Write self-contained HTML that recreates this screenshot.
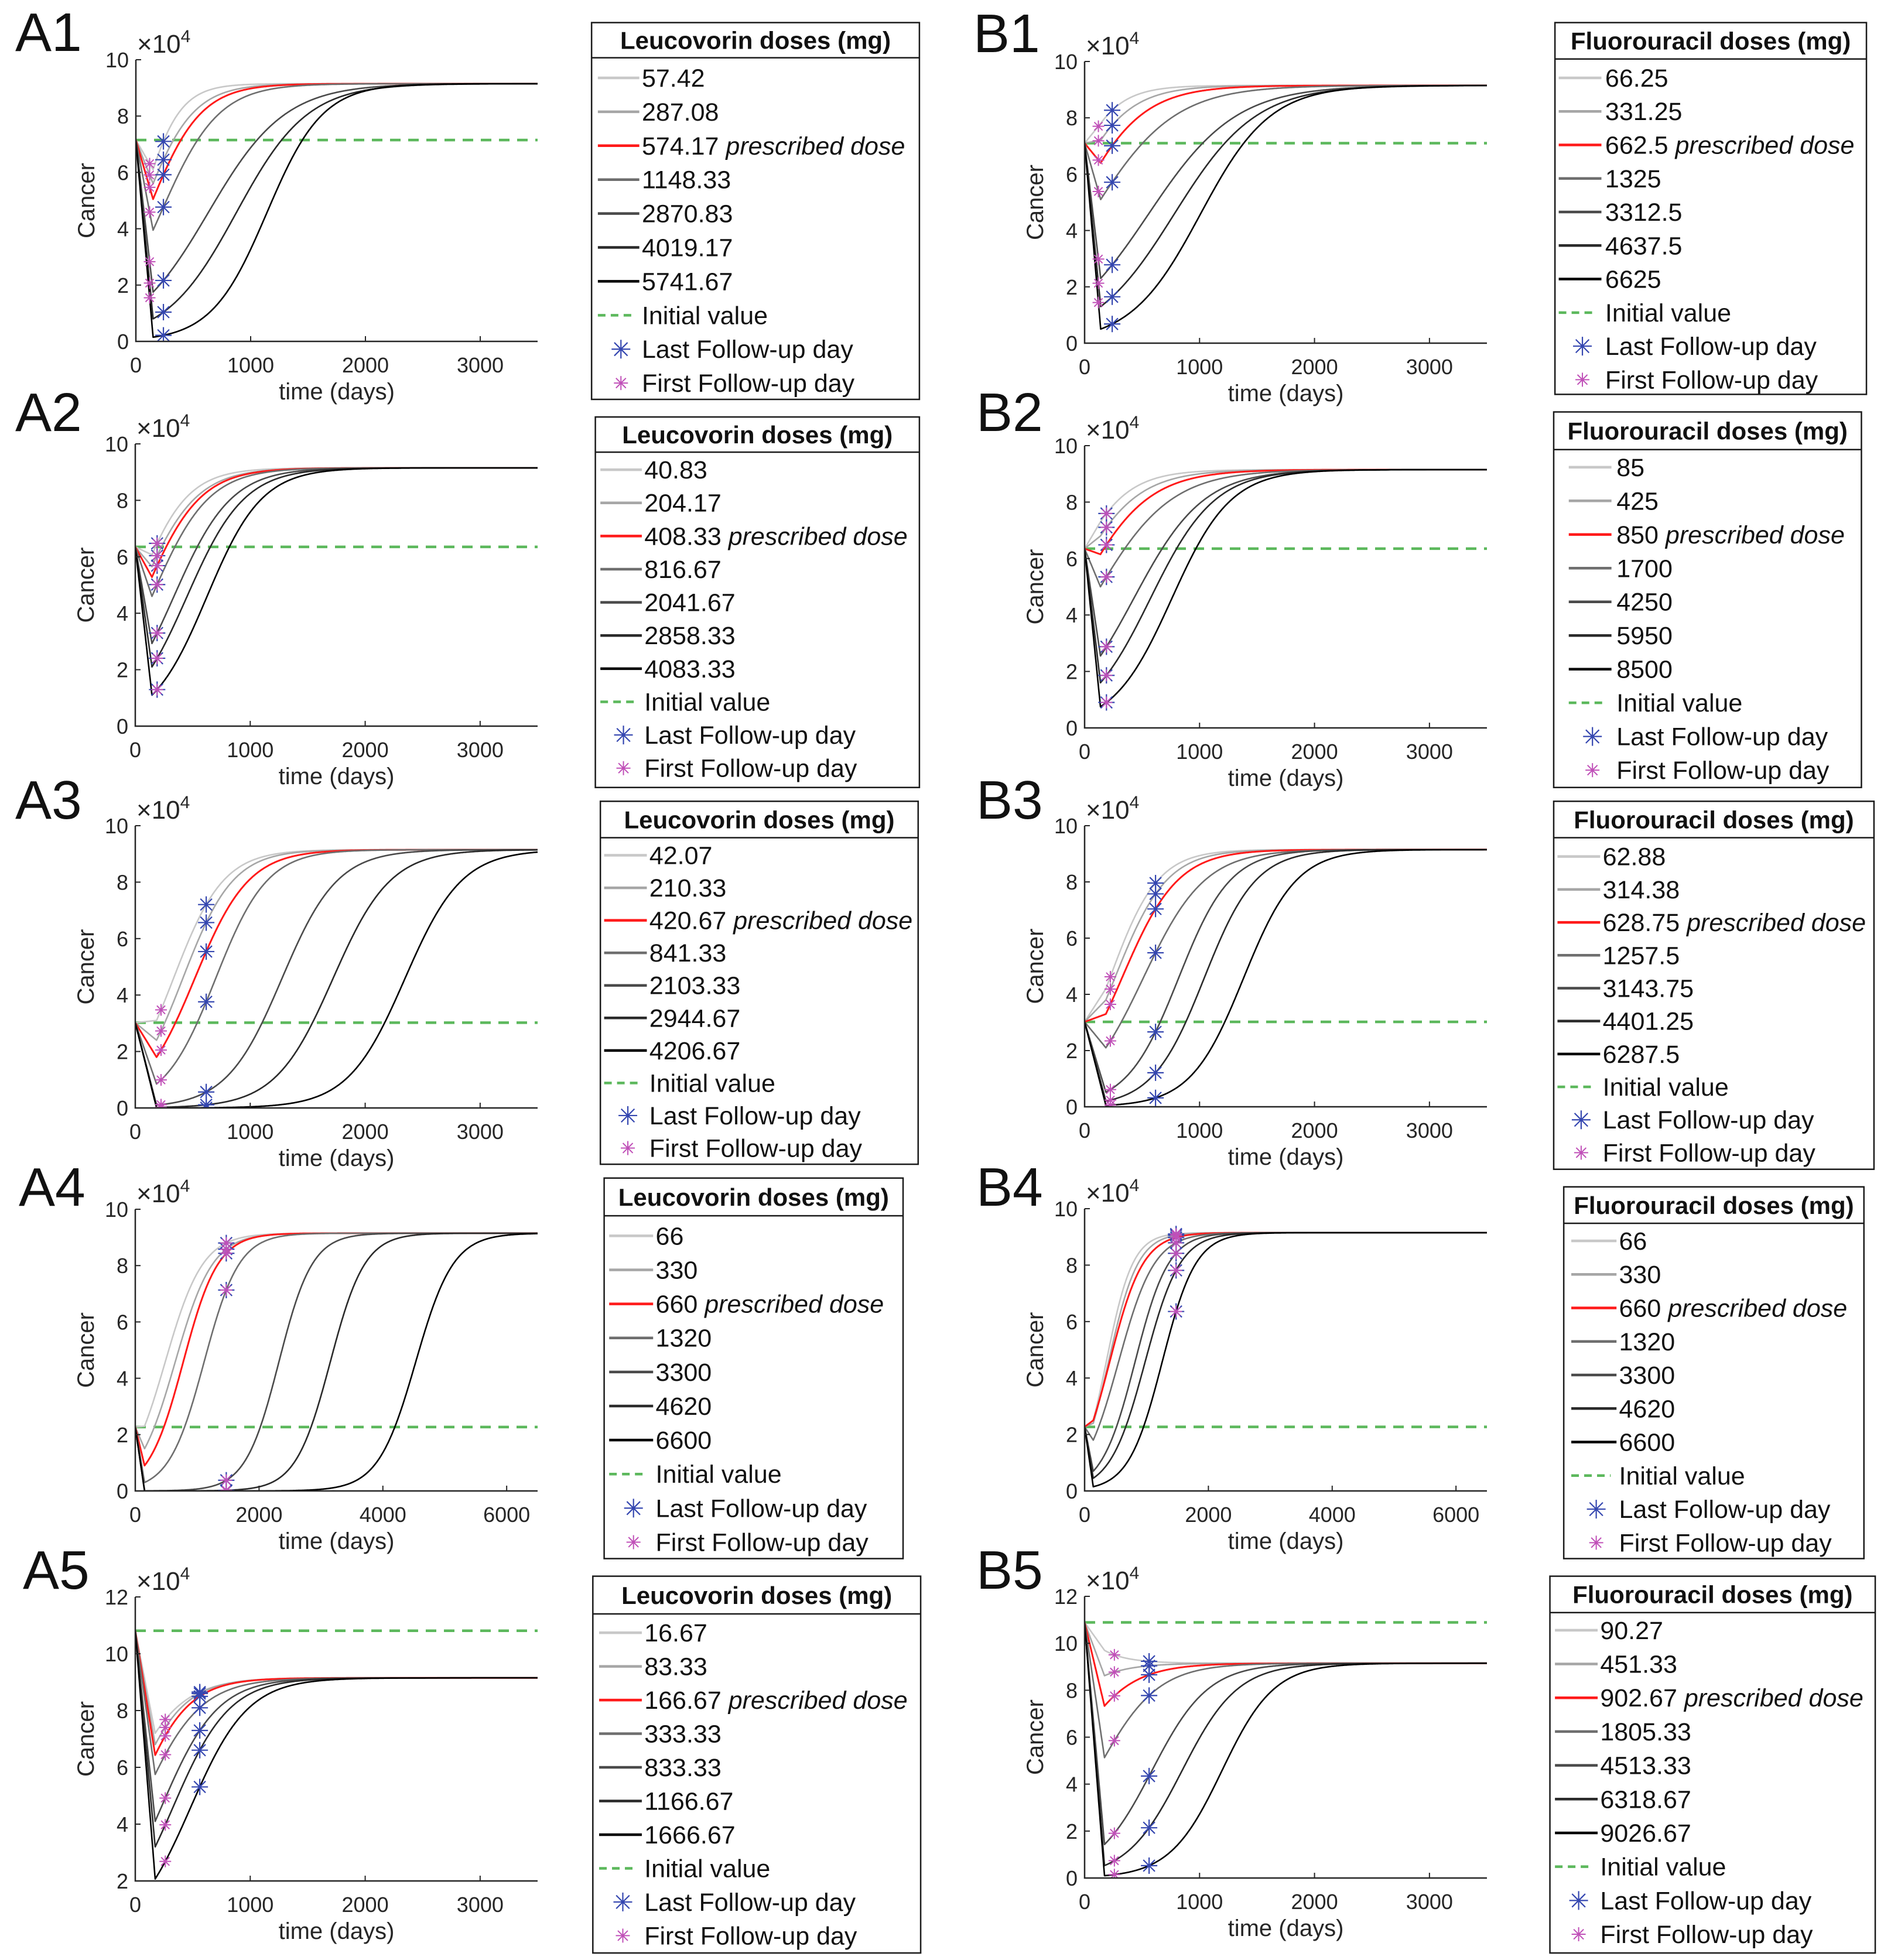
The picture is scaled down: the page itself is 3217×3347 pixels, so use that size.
<!DOCTYPE html>
<html><head><meta charset="utf-8"><title>Leucovorin / Fluorouracil dose simulations</title>
<style>
html,body{margin:0;padding:0;background:#fff;}
svg{display:block;font-family:"Liberation Sans",Arial,sans-serif;}
</style></head>
<body>
<svg id="fig" xmlns="http://www.w3.org/2000/svg" width="3217" height="3347" viewBox="0 0 3217 3347"></svg>
<script>
// ---------- DATA (values x10^4 cancer cells, days) ----------
const A1_doses = ["57.42","287.08","574.17","1148.33","2870.83","4019.17","5741.67"];
const A1_minima = [6.1,5.6,5.05,3.95,1.75,0.8,0.15];
const A1_halfDays = [300,360,385,450,760,930,1150];
const B1_doses = ["66.25","331.25","662.5","1325","3312.5","4637.5","6625"];
const B1_minima = [7.8,7.2,6.4,5.1,2.3,1.3,0.5];
const B1_halfDays = [300,350,400,510,750,880,1040];
const A2_doses = ["40.83","204.17","408.33","816.67","2041.67","2858.33","4083.33"];
const A2_minima = [6.07,5.65,5.28,4.6,2.93,2.1,1.1];
const A2_halfDays = [346,380,390,415,500,565,680];
const B2_doses = ["85","425","850","1700","4250","5950","8500"];
const B2_minima = [7.3,6.8,6.15,5.0,2.55,1.6,0.75];
const B2_halfDays = [335,380,415,485,600,670,800];
const A3_doses = ["42.07","210.33","420.67","841.33","2103.33","2944.67","4206.67"];
const A3_minima = [3.1,2.4,1.8,0.85,0.1,0.02,0.0015];
const A3_halfDays = [485,530,610,740,1280,1720,2345];
const B3_doses = ["62.88","314.38","628.75","1257.5","3143.75","4401.25","6287.5"];
const B3_minima = [4.2,3.8,3.3,2.1,0.52,0.2,0.05];
const B3_halfDays = [427,462,508,635,843,1050,1385];
const A4_doses = ["66","330","660","1320","3300","4620","6600"];
const A4_minima = [2.3,1.5,0.9,0.3,0.003,0.0002,0.000005];
const A4_halfDays = [640,745,830,1130,2320,3150,4530];
const B4_doses = ["66","330","660","1320","3300","4620","6600"];
const B4_minima = [2.5,2.4,2.5,1.8,0.7,0.45,0.15];
const B4_halfDays = [470,515,557,665,857,1006,1263];
const A5_doses = ["16.67","83.33","166.67","333.33","833.33","1166.67","1666.67"];
const A5_minima = [7.2,6.8,6.43,5.75,4.1,3.2,2.07];
const A5_halfDays = [379,369,374,417,461,506,595];
const B5_doses = ["90.27","451.33","902.67","1805.33","4513.33","6318.67","9026.67"];
const B5_minima = [9.7,8.62,7.33,5.13,1.43,0.53,0.1];
const B5_halfDays = [312,346,386,440,663,876,1200];

const panelIds      = ["A1","B1","A2","B2","A3","B3","A4","B4","A5","B5"];
const panelInitial  = [7.15,7.1,6.35,6.35,3.02,3.02,2.27,2.27,10.81,10.89];
const panelMinDay   = [150,140,145,138,185,185,150,140,173,173];
const panelFirstDay = [120,120,190,190,224,224,1470,1478,261,259];
const panelLastDay  = [240,240,190,190,617,617,1470,1478,561,561];
const carryingCap = 9.15;
const xTicksShort = [0,1000,2000,3000];
const xTicksLong = [0,2000,4000,6000];
const yTicks10 = [0,2,4,6,8,10];
const yTicksA5 = [2,4,6,8,10,12];
const yTicksB5 = [0,2,4,6,8,10,12];

// ---------- LAYOUT ----------
const S = 2.1447;
const NS = "http://www.w3.org/2000/svg";
const svg = document.getElementById("fig");
const seriesColors = ["#c8c8c8","#a6a6a6","#ff1a1a","#6e6e6e","#4a4a4a","#2a2a2a","#000000"];
const dosesById = {A1:A1_doses,B1:B1_doses,A2:A2_doses,B2:B2_doses,A3:A3_doses,B3:B3_doses,A4:A4_doses,B4:B4_doses,A5:A5_doses,B5:B5_doses};
const minById = {A1:A1_minima,B1:B1_minima,A2:A2_minima,B2:B2_minima,A3:A3_minima,B3:B3_minima,A4:A4_minima,B4:B4_minima,A5:A5_minima,B5:B5_minima};
const halfById = {A1:A1_halfDays,B1:B1_halfDays,A2:A2_halfDays,B2:B2_halfDays,A3:A3_halfDays,B3:B3_halfDays,A4:A4_halfDays,B4:B4_halfDays,A5:A5_halfDays,B5:B5_halfDays};

const axesBox = {
 A1:[232,918,102,583], B1:[1852,2539,105,586],
 A2:[231,918,758,1240], B2:[1852,2539,761,1243],
 A3:[231,918,1410,1892], B3:[1852,2539,1410,1890],
 A4:[231,918,2065,2546], B4:[1852,2539,2064,2546],
 A5:[231,918,2727,3212], B5:[1852,2539,2726,3207]
};
const legendBox = {
 A1:[471,732,18,318,46,62,27.0,476,509,511],
 B1:[1238,1486,18,314,47,62,26.7,1241,1275,1278],
 A2:[474,732,332,627,360,374,26.4,478,511,513],
 B2:[1237,1482,328,627,358,372,26.8,1249,1283,1287],
 A3:[478,731,638,927,667,681,25.9,481,515,517],
 B3:[1237,1492,638,931,667,682,26.2,1240,1274,1276],
 A4:[481,719,938,1241,968,984,27.1,485,520,522],
 B4:[1245,1484,945,1241,974,988,26.7,1251,1287,1289],
 A5:[472,733,1255,1555,1285,1300,26.8,477,511,513],
 B5:[1234,1493,1255,1555,1284,1298,26.9,1238,1272,1274]
};
const labelPos = {A1:[26,87],B1:[1662,89],A2:[26,736],B2:[1667,736],A3:[26,1398],B3:[1667,1398],A4:[32,2059],B4:[1667,2059],A5:[39,2713],B5:[1667,2713]};

function el(tag, attrs, parent){
  const e = document.createElementNS(NS, tag);
  for (const k in attrs) e.setAttribute(k, attrs[k]);
  (parent||svg).appendChild(e);
  return e;
}
function curveValue(t, y0, ymin, half, tm){
  const K = carryingCap;
  if (t <= tm) return y0 + (ymin - y0) * t / tm;
  const c = (K - ymin) / ymin;
  const L = (ymin + K) / 2;
  const r = Math.log(c / ((K - L) / L)) / (half - tm);
  return K / (1 + c * Math.exp(-r * (t - tm)));
}
function asterisk(g, cx, cy, r, color, w){
  const d = r*0.7071;
  const p = `M${cx-r},${cy}L${cx+r},${cy}M${cx},${cy-r}L${cx},${cy+r}M${cx-d},${cy-d}L${cx+d},${cy+d}M${cx-d},${cy+d}L${cx+d},${cy-d}`;
  return el("path",{d:p,stroke:color,"stroke-width":w,fill:"none"},g);
}

panelIds.forEach((id, pi) => {
  const isA = id[0] === "A";
  const [x0,x1,yTop,yBot] = axesBox[id];
  const longX = (id === "A4" || id === "B4");
  const xMax = longX ? 6500 : 3500;
  const xTicks = longX ? xTicksLong : xTicksShort;
  const yMin = id === "A5" ? 2 : 0;
  const yMax = (id === "A5" || id === "B5") ? 12 : 10;
  const yTicks = id === "A5" ? yTicksA5 : (id === "B5" ? yTicksB5 : yTicks10);
  const xs = t => x0 + (t / xMax) * (x1 - x0);
  const ys = v => yBot - ((v - yMin) / (yMax - yMin)) * (yBot - yTop);

  const g = el("g",{});
  
  

  const lab = el("text",{x:labelPos[id][0],y:labelPos[id][1],"font-size":93,fill:"#111"},g);
  lab.textContent = id;
  
  

  const clipId = "clip" + id;
  const cp = el("clipPath",{id:clipId},g);
  el("rect",{x:x0,y:yTop-2,width:x1-x0+2,height:yBot-yTop+2},cp);

  const plot = el("g",{"clip-path":`url(#${clipId})`},g);
  
  

  const y0 = panelInitial[pi];
  const gl = el("line",{x1:x0,x2:x1,y1:ys(y0),y2:ys(y0),stroke:"#5cb85c","stroke-width":4.5,"stroke-dasharray":"18,13"},plot);
  
  

  const mins = minById[id], halves = halfById[id];
  const tm = panelMinDay[pi];
  const N = 800;
  mins.forEach((ymin, si) => {
    const pts = [];
    for (let k = 0; k <= N; k++){
      const t = xMax * k / N;
      if (k > 0 && xMax*(k-1)/N < tm && t > tm) pts.push([xs(tm), ys(curveValue(tm,y0,ymin,halves[si],tm))]);
      pts.push([xs(t), ys(curveValue(t,y0,ymin,halves[si],tm))]);
    }
    const pl = el("polyline",{points:pts.map(p=>p[0].toFixed(1)+","+p[1].toFixed(1)).join(" "),fill:"none",stroke:seriesColors[si],"stroke-width":si===2?3:2.6,"stroke-linejoin":"round"},plot);
    
    
  });
  mins.forEach((ymin, si) => {
    const tl = panelLastDay[pi];
    const bl = asterisk(plot, xs(tl), ys(curveValue(tl,y0,ymin,halves[si],tm)), 14, "#3547b0", 2.2);
    
    
  });
  mins.forEach((ymin, si) => {
    const tf = panelFirstDay[pi];
    const pk = asterisk(plot, xs(tf), ys(curveValue(tf,y0,ymin,halves[si],tm)), 10, "#c050b8", 2);
    
    
  });

  const ax = el("path",{d:`M${x0},${yTop}L${x0},${yBot}L${x1},${yBot}`,stroke:"#262626","stroke-width":2.5,fill:"none"},g);
  
  
  xTicks.forEach(t => {
    el("line",{x1:xs(t),x2:xs(t),y1:yBot,y2:yBot-9,stroke:"#262626","stroke-width":2},g);
    const tx = el("text",{x:xs(t),y:yBot+53,"font-size":36,"text-anchor":"middle",fill:"#262626"},g);
    tx.textContent = t;
    
    
  });
  yTicks.forEach(v => {
    el("line",{x1:x0,x2:x0+9,y1:ys(v),y2:ys(v),stroke:"#262626","stroke-width":2},g);
    const ty = el("text",{x:x0-12,y:ys(v)+13,"font-size":36,"text-anchor":"end",fill:"#262626"},g);
    ty.textContent = v;
    
    
  });
  const ex = el("text",{x:x0+2,y:yTop-12,"font-size":44,fill:"#262626"},g);
  ex.innerHTML = '×10<tspan font-size="30" dy="-18">4</tspan>';
  
  
  const yl = el("text",{x:x0-85,y:(yTop+yBot)/2,"font-size":40,"text-anchor":"middle",fill:"#262626",transform:`rotate(-90 ${x0-85} ${(yTop+yBot)/2}) translate(0 14)`},g);
  yl.textContent = "Cancer";
  
  
  const xl = el("text",{x:(x0+x1)/2,y:yBot+99,"font-size":40,"text-anchor":"middle",fill:"#262626"},g);
  xl.textContent = "time (days)";
  
  

  const L = legendBox[id].map(v => v*S);
  const [lx0,lx1,ly0,ly1,lsep,lfirst,lsp,llx0,llx1,ltx] = L;
  const lg = el("g",{},g);
  
  
  el("rect",{x:lx0,y:ly0,width:lx1-lx0,height:ly1-ly0,fill:"#fff",stroke:"#1a1a1a","stroke-width":2.5},lg);
  el("line",{x1:lx0,x2:lx1,y1:lsep,y2:lsep,stroke:"#1a1a1a","stroke-width":2.5},lg);
  const tt = el("text",{x:(lx0+lx1)/2,y:(ly0+lsep)/2+15,"font-size":42,"font-weight":"bold","text-anchor":"middle",fill:"#111"},lg);
  tt.textContent = (isA ? "Leucovorin" : "Fluorouracil") + " doses (mg)";
  
  
  const doses = dosesById[id];
  const labels = doses.concat(["Initial value","Last Follow-up day","First Follow-up day"]);
  labels.forEach((lbl, i) => {
    const cy = lfirst + i*lsp;
    const ent = el("g",{},lg);
    
    
    if (i < 7){
      el("line",{x1:llx0,x2:llx1,y1:cy,y2:cy,stroke:seriesColors[i],"stroke-width":4.5},ent);
    } else if (i === 7){
      el("line",{x1:llx0,x2:llx1-10,y1:cy,y2:cy,stroke:"#5cb85c","stroke-width":4.5,"stroke-dasharray":"13,9"},ent);
    } else if (i === 8){
      asterisk(ent,(llx0+llx1)/2+4,cy,16,"#3547b0",2.2);
    } else {
      asterisk(ent,(llx0+llx1)/2+4,cy,12,"#c050b8",2);
    }
    const tx = el("text",{x:ltx,y:cy+15,"font-size":43,fill:"#111"},ent);
    if (i === 2) tx.innerHTML = lbl + ' <tspan font-style="italic">prescribed dose</tspan>';
    else tx.textContent = lbl;
  });
});
</script>
</body></html>
